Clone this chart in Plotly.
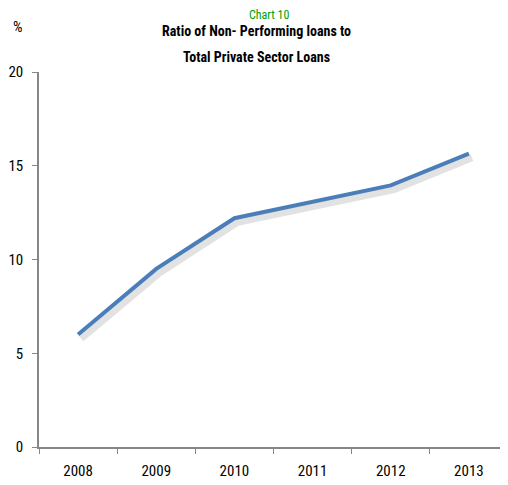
import plotly.graph_objects as go

years = ["2008", "2009", "2010", "2011", "2012", "2013"]
npl_ratio = [6.0, 9.5, 12.2, 13.05, 13.95, 15.65]
y_ticks = [0, 5, 10, 15, 20]

FONT = "Liberation Sans Narrow, Arial Narrow, Roboto Condensed, sans-serif"
OFF = 8  # page body margin offset
W, H = 508 - OFF, 485 - OFF
ML, MR, MT, MB = 36 - OFF, 0, 72 - OFF, 38

def py(pix):  # pixel y (in window) from top -> paper coordinate
    return (H - MB - (pix - OFF)) / (H - MT - MB)

def px(pix):
    return ((pix - OFF) - ML) / (W - ML - MR)

fig = go.Figure()
# soft shadow drawn on an offset overlay axis
fig.add_trace(go.Scatter(x=years, y=npl_ratio, mode="lines", xaxis="x2", yaxis="y2",
                         line=dict(color="rgba(140,140,140,0.25)", width=7),
                         hoverinfo="skip", showlegend=False))
fig.add_trace(go.Scatter(x=years, y=npl_ratio, mode="lines",
                         line=dict(color="#4a7ebb", width=4), showlegend=False))

fig.update_layout(
    width=W, height=H,
    margin=dict(l=ML, r=MR, t=MT, b=MB),
    paper_bgcolor="white", plot_bgcolor="white",
    font=dict(family=FONT, size=15, color="black"),
    xaxis=dict(type="category", range=[-0.5, 5.5], showgrid=False, showline=True,
               linecolor="#868686", linewidth=1.5,
               ticks="outside", tickson="boundaries", ticklen=5, tickcolor="#868686",
               tickfont=dict(size=15), zeroline=False, ticklabelstandoff=9),
    yaxis=dict(range=[0, 20], tickvals=y_ticks, showgrid=False, showline=True,
               linecolor="#868686", linewidth=1.5, ticks="outside", ticklen=5,
               tickcolor="#868686", tickfont=dict(size=15), zeroline=False,
               ticklabelstandoff=6),
    xaxis2=dict(type="category", overlaying="x", range=[-0.54, 5.46], visible=False),
    yaxis2=dict(overlaying="y", range=[0.22, 20.22], visible=False),
)
common = dict(xref="paper", yref="paper", showarrow=False, xanchor="center", yanchor="middle")
fig.add_annotation(text="Chart 10", x=px(268), y=py(15),
                   font=dict(color="#00a000", size=12, family=FONT), **common)
fig.add_annotation(text="<b>Ratio of Non- Performing loans to</b>", x=px(255), y=py(31),
                   font=dict(size=14, family=FONT), **common)
fig.add_annotation(text="<b>Total Private Sector Loans</b>", x=px(255), y=py(57),
                   font=dict(size=14, family=FONT), **common)
fig.add_annotation(text="%", x=px(15), y=py(27), font=dict(size=15, family=FONT), **common)

fig.write_html("out.html")
